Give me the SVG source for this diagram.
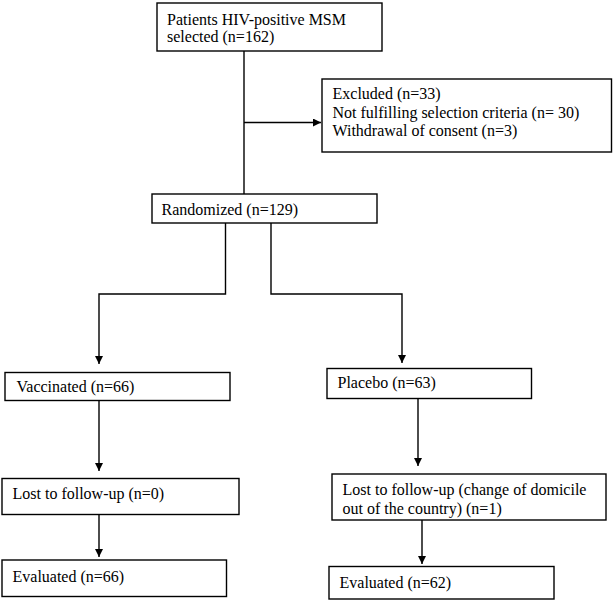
<svg xmlns="http://www.w3.org/2000/svg" width="614" height="602" viewBox="0 0 614 602">
<style>
.box{fill:#fff;stroke:#000;stroke-width:1.4}
.t{font-family:"Liberation Serif","Times New Roman",serif;font-size:16px;fill:#000}
.c{fill:none;stroke:#000;stroke-width:1.4}
</style>
<defs>
<marker id="ah" markerUnits="userSpaceOnUse" markerWidth="10" markerHeight="10" refX="8" refY="4" orient="auto">
<path d="M0,0 L8,4 L0,8 Z" fill="#000"/>
</marker>
</defs>
<rect width="614" height="602" fill="#fff"/>
<g id="connectors">
<path class="c" d="M244,51 V194"/>
<path class="c" d="M244,122.5 H321" marker-end="url(#ah)"/>
<path class="c" d="M225.5,223 V294 H99 V364" marker-end="url(#ah)"/>
<path class="c" d="M271,223 V294 H402 V363" marker-end="url(#ah)"/>
<path class="c" d="M99,401 V471" marker-end="url(#ah)"/>
<path class="c" d="M99,514 V557" marker-end="url(#ah)"/>
<path class="c" d="M418,398 V466" marker-end="url(#ah)"/>
<path class="c" d="M422,520 V564" marker-end="url(#ah)"/>
</g>
<g id="selected">
<rect class="box" x="157" y="3" width="225" height="48"/>
<text class="t" x="167" y="24.5">Patients HIV-positive MSM</text>
<text class="t" x="167" y="42">selected (n=162)</text>
</g>
<g id="excluded">
<rect class="box" x="322" y="79" width="289.5" height="73"/>
<text class="t" x="332.5" y="98.5">Excluded (n=33)</text>
<text class="t" x="332.5" y="117.5">Not fulfilling selection criteria (n= 30)</text>
<text class="t" x="332.5" y="136">Withdrawal of consent (n=3)</text>
</g>
<g id="randomized">
<rect class="box" x="152" y="194" width="225" height="29"/>
<text class="t" x="161.5" y="215">Randomized (n=129)</text>
</g>
<g id="vaccinated">
<rect class="box" x="5" y="372.5" width="225" height="28"/>
<text class="t" x="16.5" y="392">Vaccinated (n=66)</text>
</g>
<g id="placebo">
<rect class="box" x="327" y="368.5" width="204.5" height="30"/>
<text class="t" x="337.5" y="388">Placebo (n=63)</text>
</g>
<g id="lost1">
<rect class="box" x="2" y="478.5" width="237" height="36"/>
<text class="t" x="12.5" y="499">Lost to follow-up (n=0)</text>
</g>
<g id="lost2">
<rect class="box" x="332" y="474" width="274" height="46"/>
<text class="t" x="342.5" y="495">Lost to follow-up (change of domicile</text>
<text class="t" x="342.5" y="514">out of the country) (n=1)</text>
</g>
<g id="eval1">
<rect class="box" x="2" y="560" width="224.5" height="36.5"/>
<text class="t" x="12.5" y="581.5">Evaluated (n=66)</text>
</g>
<g id="eval2">
<rect class="box" x="329" y="566.5" width="225" height="32.5"/>
<text class="t" x="339.5" y="588">Evaluated (n=62)</text>
</g>
</svg>
